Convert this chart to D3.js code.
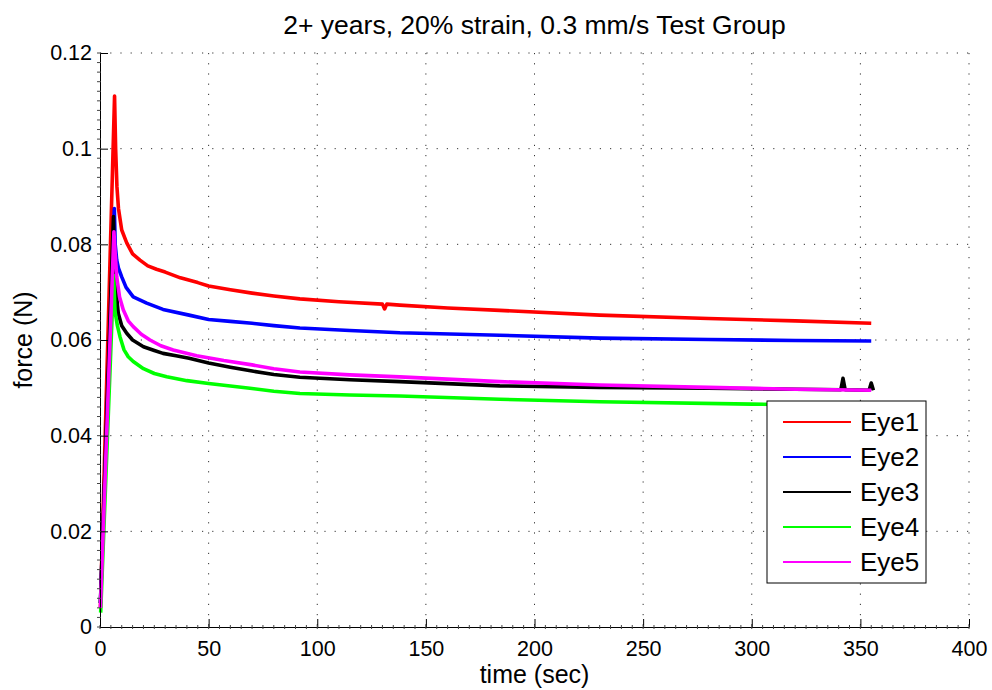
<!DOCTYPE html>
<html>
<head>
<meta charset="utf-8">
<script src="https://cdn.jsdelivr.net/npm/d3@7"></script>
<style>
  body { margin: 0; background: #fff; }
  svg text { font-family: "Liberation Sans", Arial, sans-serif; fill: #000; }
</style>
</head>
<body>
<div id="chart"></div>
<script>
// Declare chart data
var xTicks = [0, 50, 100, 150, 200, 250, 300, 350, 400];
var yTicks = [0, 0.02, 0.04, 0.06, 0.08, 0.1, 0.12];
var yTickLabels = ["0", "0.02", "0.04", "0.06", "0.08", "0.1", "0.12"];

var names  = ["Eye1", "Eye2", "Eye3", "Eye4", "Eye5"];
var colors = ["#ff0000", "#0000ff", "#000000", "#00ff00", "#ff00ff"];

var eye1T = [0.2, 6.7, 7.2, 7.8, 8.5, 10, 12.3, 15, 18.4, 22, 26, 30, 37, 45, 50, 60, 70, 80, 92, 110, 130, 131, 132, 138, 160, 184, 230, 280, 320, 355];
var eye1F = [0.004, 0.111, 0.100, 0.092, 0.0875, 0.083, 0.0803, 0.078, 0.0767, 0.0755, 0.0748, 0.0742, 0.0730, 0.072, 0.0713, 0.0705, 0.0698, 0.0692, 0.0686, 0.0680, 0.0675, 0.0665, 0.0675, 0.0673, 0.0667, 0.0662, 0.0652, 0.0645, 0.0640, 0.0635];

var eye2T = [0.2, 6.6, 7.0, 7.7, 8.5, 10, 12, 15.3, 21.5, 29, 41, 50, 60, 70, 80, 92, 115, 138, 184, 230, 280, 320, 355];
var eye2F = [0.005, 0.0875, 0.080, 0.0767, 0.0750, 0.0732, 0.0710, 0.0690, 0.0677, 0.0664, 0.0652, 0.0643, 0.0639, 0.0635, 0.0630, 0.0625, 0.0620, 0.0615, 0.0610, 0.0604, 0.0601, 0.0599, 0.0598];

var eye3T = [0.2, 6.2, 6.9, 8.4, 10, 12.3, 15, 20, 25, 29, 35, 41, 50, 60, 70, 80, 92, 115, 138, 184, 230, 280, 320, 341, 342, 343, 354, 355, 356];
var eye3F = [0.005, 0.0858, 0.0725, 0.0656, 0.0630, 0.0614, 0.0600, 0.0586, 0.0578, 0.0572, 0.0567, 0.0562, 0.0552, 0.0543, 0.0535, 0.0528, 0.0522, 0.0517, 0.0513, 0.0504, 0.0501, 0.0499, 0.0497, 0.0496, 0.0520, 0.0496, 0.0495, 0.0510, 0.0495];

var eye4T = [0.3, 6.3, 6.9, 8.0, 9.2, 11, 13, 15.3, 20, 25, 30.7, 40, 50, 60, 69, 80, 92, 115, 138, 184, 230, 300, 355];
var eye4F = [0.003, 0.0735, 0.0660, 0.0630, 0.0607, 0.0580, 0.0565, 0.0555, 0.0540, 0.0530, 0.0523, 0.0515, 0.0509, 0.0504, 0.0499, 0.0493, 0.0488, 0.0485, 0.0483, 0.0476, 0.0471, 0.0466, 0.0462];

var eye5T = [0.2, 6.4, 7.0, 7.7, 9, 10.7, 13, 15.3, 19, 23, 28, 33.7, 44.5, 57, 70, 80, 92, 115, 138, 184, 230, 280, 320, 355];
var eye5F = [0.004, 0.0826, 0.078, 0.0732, 0.0690, 0.0663, 0.0640, 0.0628, 0.0612, 0.0600, 0.0588, 0.0579, 0.0567, 0.0557, 0.0548, 0.0540, 0.0533, 0.0527, 0.0523, 0.0513, 0.0506, 0.0501, 0.0497, 0.0495];

var seriesT = [eye1T, eye2T, eye3T, eye4T, eye5T];
var seriesF = [eye1F, eye2F, eye3F, eye4F, eye5F];

var width = 992, height = 690;
var margin = {top: 53, right: 23, bottom: 63, left: 100};
var pw = width - margin.left - margin.right,
    ph = height - margin.top - margin.bottom;

var svg = d3.select('#chart').append('svg')
	.attr('width', width)
	.attr('height', height);

var x = d3.scaleLinear().domain([0, 400]).range([0, pw]);
var y = d3.scaleLinear().domain([0, 0.12]).range([ph, 0]);

var g = svg.append('g')
	.attr('transform', 'translate(' + margin.left + ',' + margin.top + ')');

// dotted grid
g.append('g').selectAll('line')
	.data(xTicks.slice(1))
	.enter().append('line')
	.attr('x1', d => x(d)).attr('x2', d => x(d))
	.attr('y1', 0).attr('y2', ph)
	.attr('stroke', '#333').attr('stroke-width', 1)
	.attr('stroke-dasharray', '1.2,9');
g.append('g').selectAll('line')
	.data(yTicks.slice(1))
	.enter().append('line')
	.attr('y1', d => y(d)).attr('y2', d => y(d))
	.attr('x1', 0).attr('x2', pw)
	.attr('stroke', '#333').attr('stroke-width', 1)
	.attr('stroke-dasharray', '1.2,9');

// data lines
var line = d3.line()
	.x(d => x(d[0]))
	.y(d => y(d[1]));

seriesT.forEach((ts, i) => {
	var pts = ts.map((t, j) => [t, seriesF[i][j]]);
	g.append('path')
		.datum(pts)
		.attr('d', line)
		.attr('fill', 'none')
		.attr('stroke', colors[i])
		.attr('stroke-width', 3.6)
		.attr('stroke-linejoin', 'round');
});

// axes: bottom and left only
var xAxis = d3.axisBottom(x).tickValues(xTicks).tickSizeInner(-8).tickSizeOuter(0).tickPadding(14);
var yAxis = d3.axisLeft(y).tickValues(yTicks).tickFormat((d, i) => yTickLabels[i])
	.tickSizeInner(-8).tickSizeOuter(0).tickPadding(8);

var xg = g.append('g').attr('transform', 'translate(0,' + ph + ')').call(xAxis);
var yg = g.append('g').call(yAxis);
[xg, yg].forEach(a => {
	a.select('.domain').attr('stroke', '#000').attr('stroke-width', 1);
	a.selectAll('.tick line').attr('stroke', '#000');
	a.selectAll('.tick text').style('font-size', '21.5px');
});
xg.selectAll('.tick text').attr('dy', '0.71em');

// minor ticks
var xMinor = d3.range(0, 400.1, 5);
var yMinor = d3.range(0, 0.1201, 0.002);
xg.append('g').selectAll('line').data(xMinor).enter().append('line')
	.attr('x1', d => x(d)).attr('x2', d => x(d))
	.attr('y1', -2).attr('y2', 2)
	.attr('stroke', '#444');
yg.append('g').selectAll('line').data(yMinor).enter().append('line')
	.attr('y1', d => y(d)).attr('y2', d => y(d))
	.attr('x1', -3).attr('x2', 1)
	.attr('stroke', '#444');

// title and labels
svg.append('text')
	.attr('x', margin.left + pw / 2).attr('y', 34)
	.attr('text-anchor', 'middle')
	.style('font-size', '26.5px')
	.text('2+ years, 20% strain, 0.3 mm/s Test Group');

svg.append('text')
	.attr('x', margin.left + pw / 2).attr('y', 683)
	.attr('text-anchor', 'middle')
	.style('font-size', '25px')
	.text('time (sec)');

svg.append('text')
	.attr('transform', 'translate(32,' + (margin.top + ph / 2) + ') rotate(-90)')
	.attr('text-anchor', 'middle')
	.style('font-size', '25px')
	.text('force (N)');

// legend
var legend = svg.append('g').attr('transform', 'translate(767,401)');
legend.append('rect')
	.attr('width', 159).attr('height', 182)
	.attr('fill', '#fff').attr('stroke', '#000').attr('stroke-width', 1);
names.forEach((n, i) => {
	var ly = 21 + i * 35;
	legend.append('line')
		.attr('x1', 16).attr('x2', 84)
		.attr('y1', ly).attr('y2', ly)
		.attr('stroke', colors[i]).attr('stroke-width', 2);
	legend.append('text')
		.attr('x', 93).attr('y', ly)
		.attr('dy', '0.36em')
		.style('font-size', '26px')
		.text(n);
});
</script>
</body>
</html>
